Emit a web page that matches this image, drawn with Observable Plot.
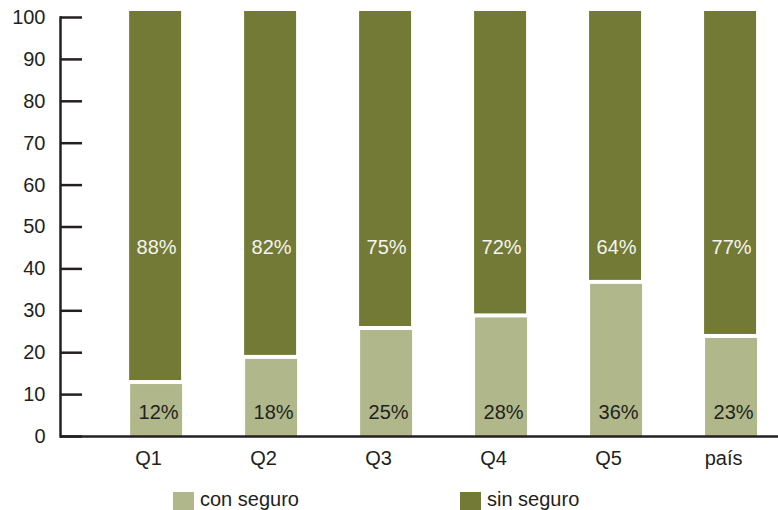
<!DOCTYPE html>
<html>
<head>
<meta charset="utf-8">
<script src="https://cdn.jsdelivr.net/npm/d3@7"></script>
<script src="https://cdn.jsdelivr.net/npm/@observablehq/plot@0.6"></script>
<style>
  body { margin: 0; background: #fff; font-family: "Liberation Sans", Arial, sans-serif; }
  #legend { position: relative; height: 30px; margin-top: 12px; font-size: 20px; color: #231f20; }
  .item { position: absolute; top: 0; display: flex; align-items: flex-start; }
  .sw { width: 21px; height: 21px; margin-right: 6px; }
  .lab { line-height: 21px; margin-top: -3px; }
</style>
</head>
<body>
<div id="chart"></div>
<div id="legend"></div>
<script>
const quintiles = ["Q1", "Q2", "Q3", "Q4", "Q5", "país"];
const conSeguro = [12.4, 18.4, 25.3, 28.3, 36.3, 23.4];
const sinSeguro = [87.6, 81.6, 74.7, 71.7, 63.7, 76.6];
const yTicks = [0, 10, 20, 30, 40, 50, 60, 70, 80, 90, 100];
const seriesNames = ["con seguro", "sin seguro"];
const colors = ["#b0b78a", "#737a35"];

const rows = quintiles.map((q, i) => ({q, con: conSeguro[i], sin: sinSeguro[i]}));

const chart = Plot.plot({
  width: 778,
  height: 480,
  marginLeft: 60,
  marginRight: 0,
  marginTop: 17,
  marginBottom: 44,
  style: {fontFamily: "'Liberation Sans', Arial, sans-serif", fontSize: "20px", color: "#231f20", background: "#fff"},
  x: {domain: quintiles, paddingInner: 0.548, paddingOuter: 0.396, align: 0.77, round: false, label: null},
  y: {domain: [0, 100], label: null},
  marks: [
    Plot.barY(rows, {x: "q", y1: 0, y2: "con", fill: colors[0]}),
    Plot.barY(rows, {x: "q", y1: "con", y2: d => d.con + d.sin, fill: colors[1], dy: -6, dx: -1, insetBottom: -2}),
    Plot.text(rows, {x: "q", y: 45, text: d => Math.round(d.sin) + "%", fill: "#f4f4f0", fontSize: 20}),
    Plot.text(rows, {x: "q", y: 5.7, text: d => Math.round(d.con) + "%", fill: "#231f20", fontSize: 20, dx: 2}),
    Plot.axisY({ticks: yTicks, tickSize: 22, dx: 22, tickFormat: () => "", strokeWidth: 2.5, stroke: "#231f20"}),
    Plot.axisY({ticks: yTicks, tickSize: 0, tickPadding: 15, fontSize: 20, fill: "#231f20"}),
    Plot.frame({anchor: "left", stroke: "#231f20", strokeWidth: 2.5}),
    Plot.axisX({tickSize: 0, tickPadding: 14, fontSize: 20, fill: "#231f20", dx: -8}),
    Plot.ruleY([0], {stroke: "#231f20", strokeWidth: 2.5})
  ]
});
document.getElementById("chart").appendChild(chart);

const legend = document.getElementById("legend");
const lefts = [173, 460];
seriesNames.forEach((name, i) => {
  const it = document.createElement("div");
  it.className = "item";
  it.style.left = lefts[i] + "px";
  it.innerHTML = `<div class="sw" style="background:${colors[i]}"></div><div class="lab">${name}</div>`;
  legend.appendChild(it);
});
</script>
</body>
</html>
